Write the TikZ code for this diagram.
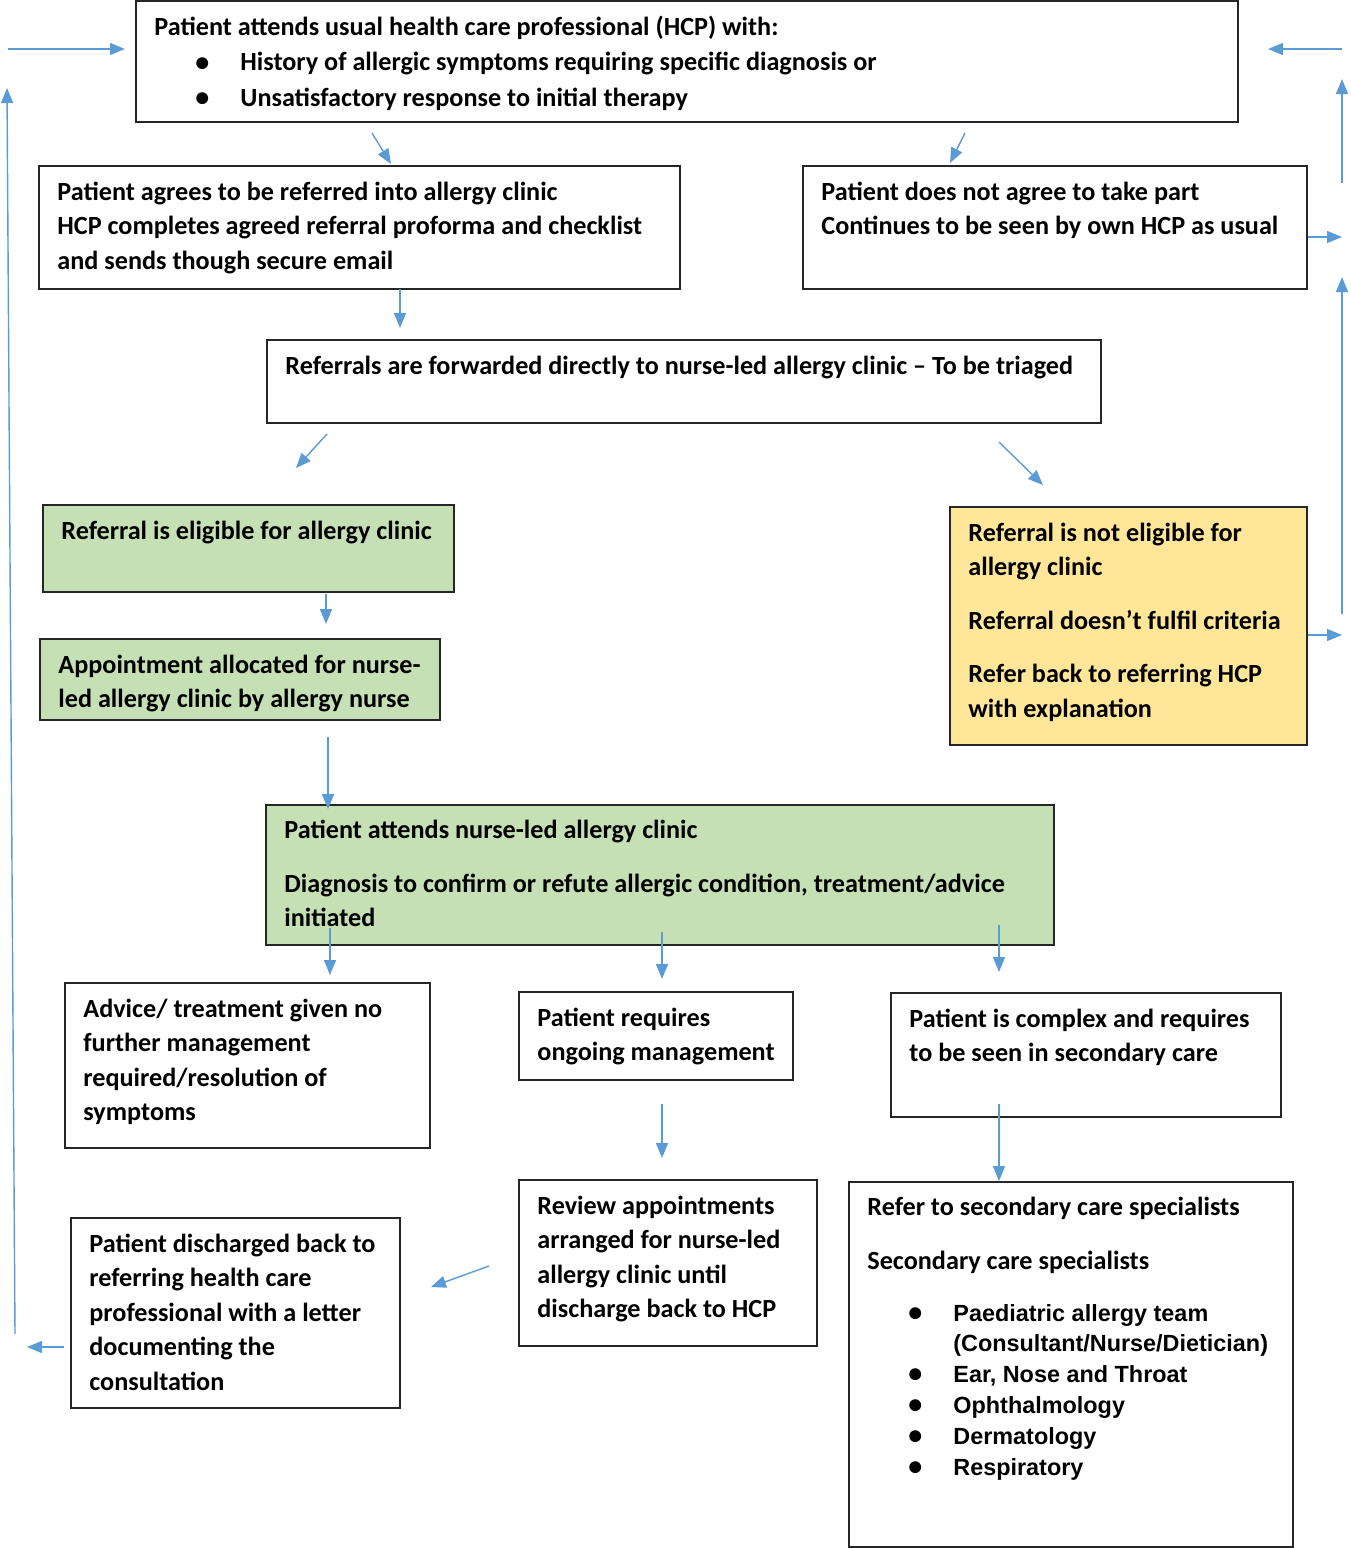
\documentclass[tikz,border=0pt]{standalone}
\usepackage{fontspec}
\setmainfont{Carlito}
\newfontfamily\arialf{Liberation Sans}
\usetikzlibrary{arrows.meta,fit}
\definecolor{arr}{HTML}{5B9BD5}
\definecolor{grn}{HTML}{C5E0B4}
\definecolor{ylw}{HTML}{FFE699}
\tikzset{
  box/.style={draw=black!85, line width=0.7pt, inner sep=0pt},
  gbox/.style={box, fill=grn},
  ybox/.style={box, fill=ylw},
  txt/.style={anchor=base west, inner sep=0pt, font=\bfseries\fontsize{13.1}{17.25}\selectfont},
  atxt/.style={anchor=base west, inner sep=0pt, font=\arialf\bfseries\fontsize{11.7}{15.5}\selectfont},
  link/.style={draw=arr, line width=0.7pt, -{Triangle[length=7.5pt,width=6pt]}},
}
\newcommand\TB[2]{\parbox[t]{#1}{\raggedright #2}}
\newcommand\bul{\hspace*{20.5pt}\makebox[22.5pt][l]{\raisebox{-0.3pt}{\rmfamily\bfseries\fontsize{14}{14}\selectfont\textbullet}}}
\begin{document}
\begin{tikzpicture}[x=0.5pt,y=-0.5pt]
\useasboundingbox (0,0) rectangle (1350,1548);
% boxes
\node[box,  fit={(136,1)(1238,122)}]   (b1) {};
\node[box,  fit={(39,166)(680,289)}]   (b2) {};
\node[box,  fit={(803,166)(1307,289)}] (b3) {};
\node[box,  fit={(267,340)(1101,423)}] (b4) {};
\node[gbox, fit={(43,505)(454,592)}]   (b5) {};
\node[ybox, fit={(950,507)(1307,745)}] (b6) {};
\node[gbox, fit={(40,639)(440,720)}]   (b7) {};
\node[gbox, fit={(266,805)(1054,945)}] (b8) {};
\node[box,  fit={(65,983)(430,1148)}]  (b9) {};
\node[box,  fit={(519,992)(793,1080)}] (b10) {};
\node[box,  fit={(891,993)(1281,1117)}] (b11) {};
\node[box,  fit={(519,1180)(817,1346)}] (b12) {};
\node[box,  fit={(71,1218)(400,1408)}] (b13) {};
\node[box,  fit={(849,1182)(1293,1547)}] (b14) {};
% texts
\node[txt] (t1) at (154,35) {\TB{540pt}{Patient attends usual health care professional (HCP) with:\\[0.5pt]
\bul History of allergic symptoms requiring specific diagnosis or\\[0.5pt]
\bul Unsatisfactory response to initial therapy}};
\node[txt] (t2) at (57,200) {\TB{320pt}{Patient agrees to be referred into allergy clinic\\
HCP completes agreed referral proforma and checklist\\
and sends though secure email}};
\node[txt] (t3) at (821,200) {\TB{250pt}{Patient does not agree to take part\\
Continues to be seen by own HCP as usual}};
\node[txt] (t4) at (285,374) {\TB{415pt}{Referrals are forwarded directly to nurse-led allergy clinic -- To be triaged}};
\node[txt] (t5) at (61,539) {\TB{205pt}{Referral is eligible for allergy clinic}};
\node[txt] (t6) at (968,541) {\TB{175pt}{Referral is not eligible for\\
allergy clinic\\[9.5pt]
Referral doesn’t fulfil criteria\\[9.5pt]
Refer back to referring HCP\\
with explanation}};
\node[txt] (t7) at (58,673) {\TB{195pt}{Appointment allocated for nurse-\\
led allergy clinic by allergy nurse}};
\node[txt] (t8) at (284,838) {\TB{390pt}{Patient attends nurse-led allergy clinic\\[9.75pt]
Diagnosis to confirm or refute allergic condition, treatment/advice\\
initiated}};
\node[txt] (t9) at (83,1017) {\TB{180pt}{Advice/ treatment given no\\
further management\\
required/resolution of\\
symptoms}};
\node[txt] (t10) at (537,1026) {\TB{135pt}{Patient requires\\
ongoing management}};
\node[txt] (t11) at (909,1027) {\TB{190pt}{Patient is complex and requires\\
to be seen in secondary care}};
\node[txt] (t12) at (537,1214) {\TB{145pt}{Review appointments\\
arranged for nurse-led\\
allergy clinic until\\
discharge back to HCP}};
\node[txt] (t13) at (89,1252) {\TB{160pt}{Patient discharged back to\\
referring health care\\
professional with a letter\\
documenting the\\
consultation}};
\node[txt] (t14) at (867,1215) {\TB{220pt}{Refer to secondary care specialists\\[9.75pt]
Secondary care specialists}};
\node[atxt] (t15) at (867,1321) {\TB{220pt}{%
\bul Paediatric allergy team\\[-0.5pt]
\hspace*{43pt}(Consultant/Nurse/Dietician)\\
\bul Ear, Nose and Throat\\
\bul Ophthalmology\\
\bul Dermatology\\
\bul Respiratory}};
% connector end points
\coordinate (p1a) at (8,49);     \coordinate (p1b) at (125,49);
\coordinate (p2a) at (1342,49);  \coordinate (p2b) at (1268,49);
\coordinate (p3a) at (1342,183); \coordinate (p3b) at (1342,79);
\coordinate (p4a) at (1308,237); \coordinate (p4b) at (1342,237);
\coordinate (p5a) at (1342,614); \coordinate (p5b) at (1342,277);
\coordinate (p6a) at (1308,635); \coordinate (p6b) at (1342,635);
\coordinate (p7a) at (15,1334);  \coordinate (p7b) at (7,88);
\coordinate (p8a) at (64,1347);  \coordinate (p8b) at (27,1347);
\coordinate (q1a) at (372,133);  \coordinate (q1b) at (391,164);
\coordinate (q2a) at (965,133);  \coordinate (q2b) at (950,163);
\coordinate (q3a) at (400,289);  \coordinate (q3b) at (400,328);
\coordinate (q4a) at (327,434);  \coordinate (q4b) at (296,468);
\coordinate (q5a) at (999,442);  \coordinate (q5b) at (1043,485);
\coordinate (q6a) at (326,594);  \coordinate (q6b) at (326,624);
\coordinate (q7a) at (328,737);  \coordinate (q7b) at (328,809);
\coordinate (q8a) at (330,928);  \coordinate (q8b) at (330,975);
\coordinate (q9a) at (662,932);  \coordinate (q9b) at (662,979);
\coordinate (q10a) at (999,925); \coordinate (q10b) at (999,972);
\coordinate (q11a) at (662,1104); \coordinate (q11b) at (662,1158);
\coordinate (q12a) at (999,1104); \coordinate (q12b) at (999,1181);
\coordinate (q13a) at (489,1266); \coordinate (q13b) at (431,1287);
\foreach \n in {p1,p2,p3,p4,p5,p6,p7,p8,q1,q2,q3,q4,q5,q6,q7,q8,q9,q10,q11,q12,q13}
  \draw[link] (\n a) -- (\n b);
\end{tikzpicture}
\end{document}
